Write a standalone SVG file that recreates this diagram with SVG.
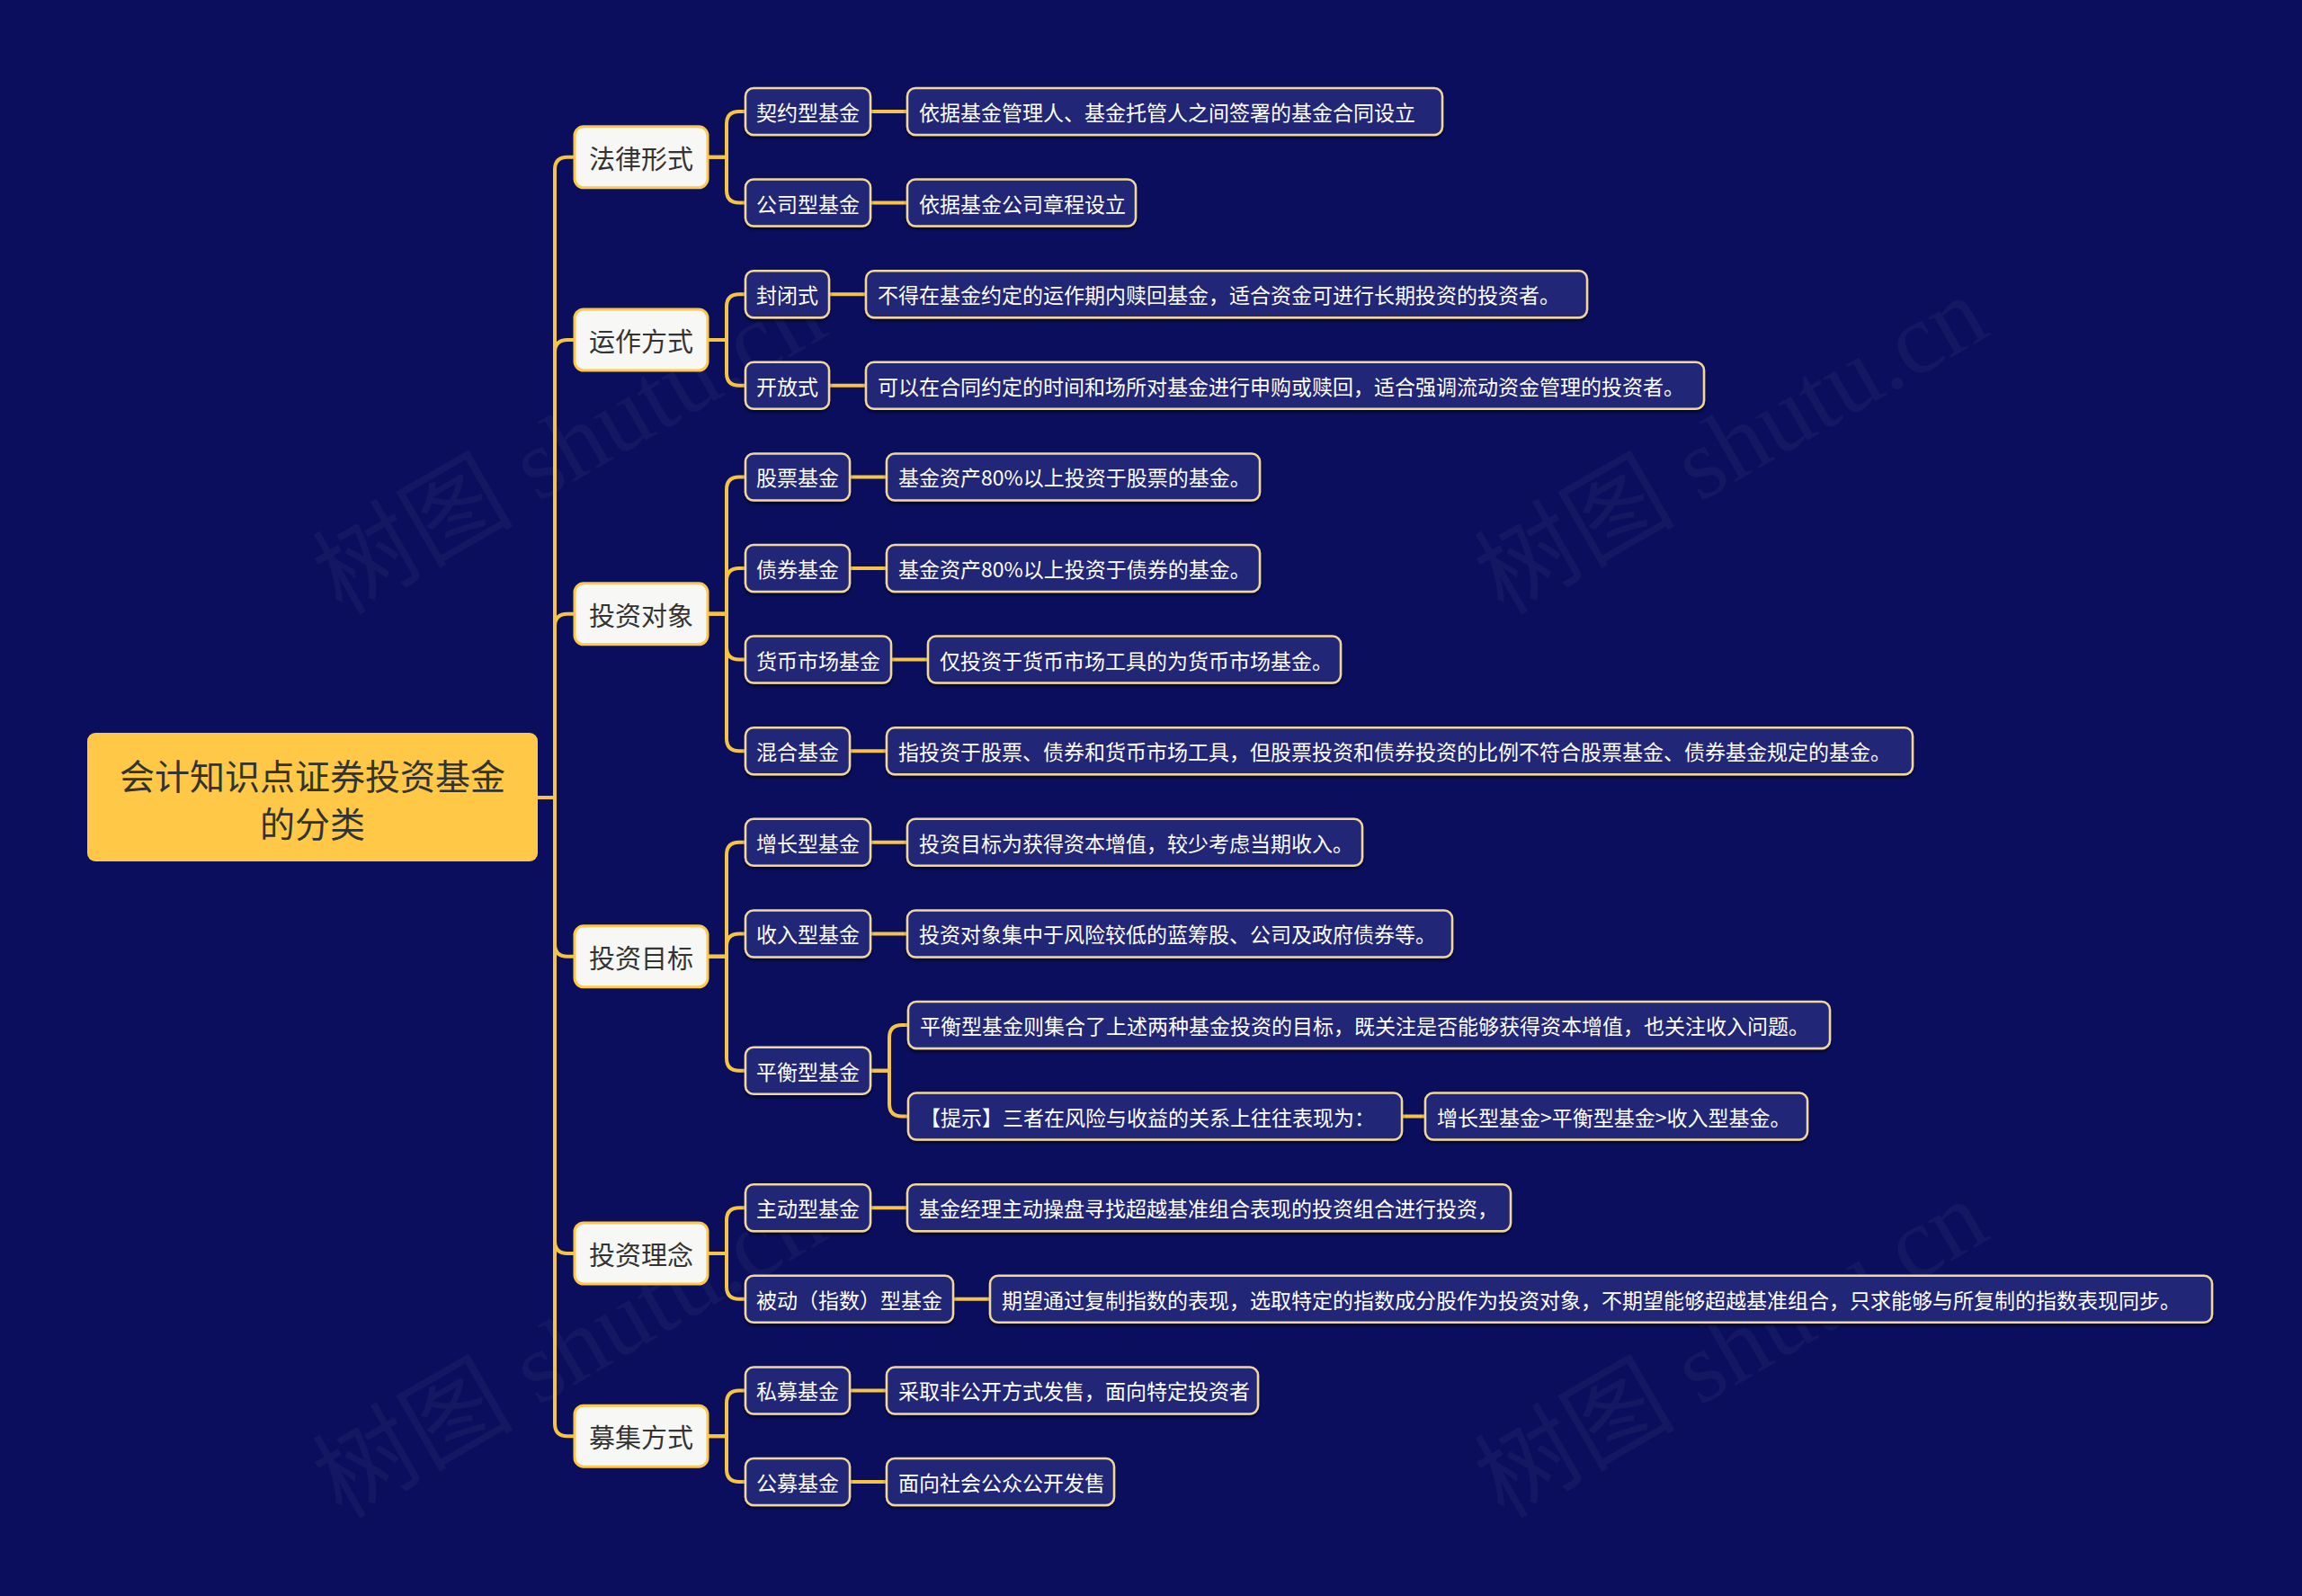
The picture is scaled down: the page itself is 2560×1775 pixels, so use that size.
<svg xmlns="http://www.w3.org/2000/svg" width="2560" height="1775" viewBox="0 0 2560 1775">
<defs>
<style>
.bg{fill:#0a0e5c}
.wm{font-family:"Liberation Serif","Noto Sans CJK SC",serif;font-size:112px;fill:#ffffff;fill-opacity:0.045}
.root rect{fill:#ffc846}
.root text{font-family:"Noto Sans CJK SC","Noto Sans",sans-serif;font-size:39px;fill:#333333;text-anchor:middle;dominant-baseline:central}
.l1 rect{fill:#f7f7f5;stroke:#ffc846;stroke-width:3}
.l1 text{font-family:"Noto Sans CJK SC","Noto Sans",sans-serif;font-size:29px;fill:#333333;text-anchor:middle;dominant-baseline:central}
.n rect{fill:#232877;stroke:#f2d79c;stroke-width:2.5;filter:url(#sh)}
.n text{font-family:"Noto Sans CJK SC","Noto Sans",sans-serif;font-size:23px;fill:#ffffff;dominant-baseline:central}
.c path{fill:none;stroke:#f5c445;stroke-width:4;stroke-linecap:round}
</style>
<filter id="sh" x="-5%" y="-20%" width="110%" height="150%">
<feDropShadow dx="0" dy="2.5" stdDeviation="1.5" flood-color="#000000" flood-opacity="0.6"/>
</filter>
</defs>
<rect class="bg" x="0" y="0" width="2560" height="1775"/>
<g id="watermarks">
<text class="wm" x="652" y="528" text-anchor="middle" transform="rotate(-30 652 528)">树图 shutu.cn</text>
<text class="wm" x="1944" y="528" text-anchor="middle" transform="rotate(-30 1944 528)">树图 shutu.cn</text>
<text class="wm" x="652" y="1533" text-anchor="middle" transform="rotate(-30 652 1533)">树图 shutu.cn</text>
<text class="wm" x="1944" y="1533" text-anchor="middle" transform="rotate(-30 1944 1533)">树图 shutu.cn</text>
</g>
<g id="connectors" class="c">
<path d="M598 887 H617 V188.8 Q617 174.8 631 174.8 H639"/>
<path d="M598 887 H617 V392 Q617 378 631 378 H639"/>
<path d="M598 887 H617 V696.8 Q617 682.8 631 682.8 H639"/>
<path d="M598 887 H617 V1049.8 Q617 1063.8 631 1063.8 H639"/>
<path d="M598 887 H617 V1380 Q617 1394 631 1394 H639"/>
<path d="M598 887 H617 V1583.2 Q617 1597.2 631 1597.2 H639"/>
<path d="M787 174.8 H808 V138 Q808 124 822 124 H829"/>
<path d="M787 174.8 H808 V211.6 Q808 225.6 822 225.6 H829"/>
<path d="M787 378 H808 V341.2 Q808 327.2 822 327.2 H829"/>
<path d="M787 378 H808 V414.8 Q808 428.8 822 428.8 H829"/>
<path d="M787 682.8 H808 V544.4 Q808 530.4 822 530.4 H829"/>
<path d="M787 682.8 H808 V646 Q808 632 822 632 H829"/>
<path d="M787 682.8 H808 V719.6 Q808 733.6 822 733.6 H829"/>
<path d="M787 682.8 H808 V821.2 Q808 835.2 822 835.2 H829"/>
<path d="M787 1063.8 H808 V950.8 Q808 936.8 822 936.8 H829"/>
<path d="M787 1063.8 H808 V1052.4 Q808 1038.4 822 1038.4 H829"/>
<path d="M787 1063.8 H808 V1176.8 Q808 1190.8 822 1190.8 H829"/>
<path d="M787 1394 H808 V1357.2 Q808 1343.2 822 1343.2 H829"/>
<path d="M787 1394 H808 V1430.8 Q808 1444.8 822 1444.8 H829"/>
<path d="M787 1597.2 H808 V1560.4 Q808 1546.4 822 1546.4 H829"/>
<path d="M787 1597.2 H808 V1634 Q808 1648 822 1648 H829"/>
<path d="M968 1190.8 H989 V1154 Q989 1140 1003 1140 H1010"/>
<path d="M968 1190.8 H989 V1227.6 Q989 1241.6 1003 1241.6 H1010"/>
<path d="M968 124 H1009"/>
<path d="M968 225.6 H1009"/>
<path d="M922 327.2 H963"/>
<path d="M922 428.8 H963"/>
<path d="M945 530.4 H986"/>
<path d="M945 632 H986"/>
<path d="M991 733.6 H1032"/>
<path d="M945 835.2 H986"/>
<path d="M968 936.8 H1009"/>
<path d="M968 1038.4 H1009"/>
<path d="M1559 1241.6 H1585"/>
<path d="M968 1343.2 H1009"/>
<path d="M1060 1444.8 H1101"/>
<path d="M945 1546.4 H986"/>
<path d="M945 1648 H986"/>
</g>
<g id="root" class="root">
<rect x="97" y="815" width="501" height="143" rx="9"/>
<text x="347.5" y="860.5">会计知识点证券投资基金</text>
<text x="347.5" y="913.5">的分类</text>
</g>
<g id="l1-falv" class="l1"><rect x="639" y="140.8" width="148" height="68" rx="10"/><text x="713" y="174.8">法律形式</text></g>
<g id="l1-yunzuo" class="l1"><rect x="639" y="344" width="148" height="68" rx="10"/><text x="713" y="378">运作方式</text></g>
<g id="l1-duixiang" class="l1"><rect x="639" y="648.8" width="148" height="68" rx="10"/><text x="713" y="682.8">投资对象</text></g>
<g id="l1-mubiao" class="l1"><rect x="639" y="1029.8" width="148" height="68" rx="10"/><text x="713" y="1063.8">投资目标</text></g>
<g id="l1-linian" class="l1"><rect x="639" y="1360" width="148" height="68" rx="10"/><text x="713" y="1394">投资理念</text></g>
<g id="l1-muji" class="l1"><rect x="639" y="1563.2" width="148" height="68" rx="10"/><text x="713" y="1597.2">募集方式</text></g>

<g id="n-qiyue" class="n"><rect x="829" y="98" width="139" height="52" rx="9"/><text x="841" y="124">契约型基金</text></g>
<g id="n-qiyue-d" class="n"><rect x="1009" y="98" width="595" height="52" rx="9"/><text x="1022" y="124">依据基金管理人、基金托管人之间签署的基金合同设立</text></g>
<g id="n-gongsi" class="n"><rect x="829" y="199.6" width="139" height="52" rx="9"/><text x="841" y="225.6">公司型基金</text></g>
<g id="n-gongsi-d" class="n"><rect x="1009" y="199.6" width="254" height="52" rx="9"/><text x="1022" y="225.6">依据基金公司章程设立</text></g>
<g id="n-fengbi" class="n"><rect x="829" y="301.2" width="93" height="52" rx="9"/><text x="841" y="327.2">封闭式</text></g>
<g id="n-fengbi-d" class="n"><rect x="963" y="301.2" width="802" height="52" rx="9"/><text x="976" y="327.2">不得在基金约定的运作期内赎回基金，适合资金可进行长期投资的投资者。</text></g>
<g id="n-kaifang" class="n"><rect x="829" y="402.8" width="93" height="52" rx="9"/><text x="841" y="428.8">开放式</text></g>
<g id="n-kaifang-d" class="n"><rect x="963" y="402.8" width="932" height="52" rx="9"/><text x="976" y="428.8">可以在合同约定的时间和场所对基金进行申购或赎回，适合强调流动资金管理的投资者。</text></g>
<g id="n-gupiao" class="n"><rect x="829" y="504.4" width="116" height="52" rx="9"/><text x="841" y="530.4">股票基金</text></g>
<g id="n-gupiao-d" class="n"><rect x="986" y="504.4" width="415" height="52" rx="9"/><text x="999" y="530.4">基金资产80%以上投资于股票的基金。</text></g>
<g id="n-zhaiquan" class="n"><rect x="829" y="606" width="116" height="52" rx="9"/><text x="841" y="632">债券基金</text></g>
<g id="n-zhaiquan-d" class="n"><rect x="986" y="606" width="415" height="52" rx="9"/><text x="999" y="632">基金资产80%以上投资于债券的基金。</text></g>
<g id="n-huobi" class="n"><rect x="829" y="707.6" width="162" height="52" rx="9"/><text x="841" y="733.6">货币市场基金</text></g>
<g id="n-huobi-d" class="n"><rect x="1032" y="707.6" width="459" height="52" rx="9"/><text x="1045" y="733.6">仅投资于货币市场工具的为货币市场基金。</text></g>
<g id="n-hunhe" class="n"><rect x="829" y="809.2" width="116" height="52" rx="9"/><text x="841" y="835.2">混合基金</text></g>
<g id="n-hunhe-d" class="n"><rect x="986" y="809.2" width="1141" height="52" rx="9"/><text x="999" y="835.2">指投资于股票、债券和货币市场工具，但股票投资和债券投资的比例不符合股票基金、债券基金规定的基金。</text></g>
<g id="n-zengzhang" class="n"><rect x="829" y="910.8" width="139" height="52" rx="9"/><text x="841" y="936.8">增长型基金</text></g>
<g id="n-zengzhang-d" class="n"><rect x="1009" y="910.8" width="506" height="52" rx="9"/><text x="1022" y="936.8">投资目标为获得资本增值，较少考虑当期收入。</text></g>
<g id="n-shouru" class="n"><rect x="829" y="1012.4" width="139" height="52" rx="9"/><text x="841" y="1038.4">收入型基金</text></g>
<g id="n-shouru-d" class="n"><rect x="1009" y="1012.4" width="606" height="52" rx="9"/><text x="1022" y="1038.4">投资对象集中于风险较低的蓝筹股、公司及政府债券等。</text></g>
<g id="n-pingheng" class="n"><rect x="829" y="1164.8" width="139" height="52" rx="9"/><text x="841" y="1190.8">平衡型基金</text></g>
<g id="n-pingheng-d1" class="n"><rect x="1010" y="1114" width="1025" height="52" rx="9"/><text x="1023" y="1140">平衡型基金则集合了上述两种基金投资的目标，既关注是否能够获得资本增值，也关注收入问题。</text></g>
<g id="n-pingheng-d2" class="n"><rect x="1010" y="1215.6" width="549" height="52" rx="9"/><text x="1023" y="1241.6">【提示】三者在风险与收益的关系上往往表现为：</text></g>
<g id="n-pingheng-d3" class="n"><rect x="1585" y="1215.6" width="425" height="52" rx="9"/><text x="1598" y="1241.6">增长型基金&gt;平衡型基金&gt;收入型基金。</text></g>
<g id="n-zhudong" class="n"><rect x="829" y="1317.2" width="139" height="52" rx="9"/><text x="841" y="1343.2">主动型基金</text></g>
<g id="n-zhudong-d" class="n"><rect x="1009" y="1317.2" width="671" height="52" rx="9"/><text x="1022" y="1343.2">基金经理主动操盘寻找超越基准组合表现的投资组合进行投资，</text></g>
<g id="n-beidong" class="n"><rect x="829" y="1418.8" width="231" height="52" rx="9"/><text x="841" y="1444.8">被动（指数）型基金</text></g>
<g id="n-beidong-d" class="n"><rect x="1101" y="1418.8" width="1359" height="52" rx="9"/><text x="1114" y="1444.8">期望通过复制指数的表现，选取特定的指数成分股作为投资对象，不期望能够超越基准组合，只求能够与所复制的指数表现同步。</text></g>
<g id="n-simu" class="n"><rect x="829" y="1520.4" width="116" height="52" rx="9"/><text x="841" y="1546.4">私募基金</text></g>
<g id="n-simu-d" class="n"><rect x="986" y="1520.4" width="413" height="52" rx="9"/><text x="999" y="1546.4">采取非公开方式发售，面向特定投资者</text></g>
<g id="n-gongmu" class="n"><rect x="829" y="1622" width="116" height="52" rx="9"/><text x="841" y="1648">公募基金</text></g>
<g id="n-gongmu-d" class="n"><rect x="986" y="1622" width="253" height="52" rx="9"/><text x="999" y="1648">面向社会公众公开发售</text></g>
</svg>
